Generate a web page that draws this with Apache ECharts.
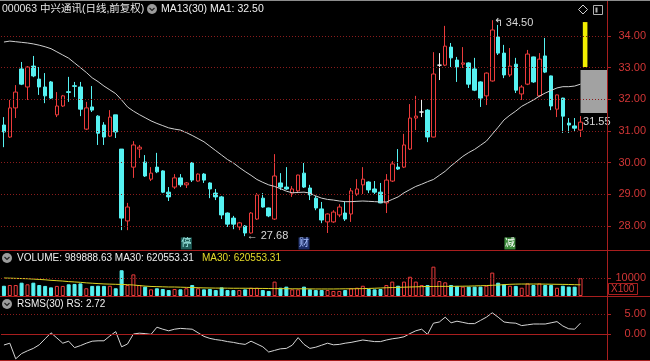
<!DOCTYPE html>
<html><head><meta charset="utf-8">
<script src="https://cdn.jsdelivr.net/npm/echarts@6/dist/echarts.min.js"></script>
<style>html,body{margin:0;padding:0;background:#000;overflow:hidden}#c{width:650px;height:361px}</style>
</head><body><div id="c"></div>
<script>
// ---------- data ----------
const opens = [31.19,30.81,31.73,32.96,32.39,33.05,32.64,32.39,32.55,31.51,
31.79,32.24,32.43,32.39,31.06,31.76,31.47,31.19,30.84,31.51,
30.43,28.16,29.86,30.43,30.02,29.48,29.86,29.74,29.07,29.23,
29.52,29.30,29.99,29.42,29.64,29.36,29.04,28.92,28.41,28.25,
27.97,28.00,27.78,28.22,28.88,28.57,28.22,29.36,29.23,29.04,
29.11,29.67,29.20,28.88,28.54,28.13,28.13,28.35,28.41,28.38,
29.01,29.30,29.39,29.17,29.07,28.73,29.42,29.86,29.86,30.43,
31.41,31.60,31.66,30.81,33.08,33.08,33.65,33.24,33.11,33.15,
32.96,32.55,32.11,32.58,33.97,33.46,32.77,33.11,32.17,32.48,
33.34,32.11,33.37,32.74,31.69,32.04,31.25,31.16,31.03];
const closes = [30.97,31.73,32.23,32.48,33.02,32.74,32.39,32.11,32.04,31.79,
32.11,32.22,32.41,31.69,31.73,31.66,30.93,30.81,31.44,30.97,
28.25,28.60,30.56,30.49,29.58,29.67,29.71,29.07,28.92,29.52,
29.30,29.36,29.45,29.64,29.45,29.17,28.92,28.35,28.06,28.06,
28.10,27.78,28.41,28.98,28.60,28.32,29.58,29.23,29.17,29.17,
29.61,29.23,28.98,28.57,28.19,28.38,28.44,28.60,28.22,29.11,
29.17,29.48,29.14,29.07,28.73,29.45,29.96,29.80,30.56,31.41,
31.47,31.60,30.81,32.80,33.08,33.68,33.31,33.02,33.15,32.48,
32.29,32.04,32.83,34.19,33.46,32.77,33.05,32.29,32.39,33.43,
32.55,33.27,32.86,31.79,32.14,31.47,31.19,31.09,31.28];
const lows = [30.49,30.78,31.41,32.45,31.98,32.70,32.14,31.88,32.01,31.44,
31.76,31.92,32.07,31.47,31.03,31.60,30.56,30.56,30.81,30.78,
27.87,27.87,29.52,30.15,29.55,29.42,29.67,29.04,28.79,29.17,
29.23,29.20,29.39,29.40,29.36,28.88,28.82,28.22,27.97,27.90,
27.87,27.68,27.76,28.19,28.58,28.28,28.19,29.14,29.14,28.92,
29.04,29.20,28.82,28.50,28.09,27.78,28.10,28.28,28.16,28.13,
28.95,29.01,29.04,29.01,28.72,28.41,29.39,29.77,29.83,30.40,
31.03,31.44,30.65,30.80,32.61,33.05,33.02,32.55,32.99,32.36,
32.26,31.76,31.82,32.56,33.40,32.67,32.71,32.20,31.98,32.45,
32.52,32.07,32.83,31.66,31.44,30.94,30.94,30.97,30.81];
const highs = [31.44,31.98,32.45,33.18,33.05,33.37,33.02,32.83,32.58,32.23,
32.14,32.71,32.55,32.55,31.92,32.42,31.50,31.28,31.66,31.51,
30.43,28.73,30.68,30.56,30.24,29.86,30.31,29.76,29.23,29.64,
29.64,29.39,30.02,29.66,29.67,29.38,29.17,28.95,28.43,28.32,
28.13,28.03,28.44,29.04,29.04,28.58,30.27,29.67,29.86,29.26,
29.62,29.99,29.30,28.95,28.76,28.40,28.50,28.69,28.76,29.20,
29.48,29.86,29.41,29.42,29.36,29.64,30.05,30.43,30.91,31.85,
32.11,32.01,31.69,33.49,33.46,34.32,33.78,33.34,33.65,33.17,
33.31,32.57,32.85,34.50,34.35,33.72,33.62,33.31,32.45,33.56,
33.35,33.46,33.94,32.75,32.15,32.05,31.41,31.41,31.47];
const ma30 = [33.81,33.84,33.82,33.80,33.78,33.75,33.71,33.66,33.60,33.50,
33.40,33.30,33.15,33.00,32.85,32.68,32.56,32.42,32.30,32.18,
31.98,31.76,31.63,31.52,31.42,31.32,31.24,31.17,31.10,31.06,
31.03,30.95,30.86,30.76,30.66,30.52,30.38,30.24,30.10,29.99,
29.85,29.72,29.60,29.47,29.38,29.30,29.25,29.18,29.10,29.05,
29.06,29.07,29.04,28.95,28.88,28.84,28.82,28.79,28.77,28.77,
28.78,28.79,28.78,28.77,28.76,28.76,28.84,28.92,29.05,29.15,
29.25,29.32,29.40,29.47,29.60,29.73,29.90,30.05,30.20,30.32,
30.42,30.55,30.68,30.90,31.12,31.35,31.50,31.63,31.78,31.88,
31.98,32.10,32.20,32.28,32.36,32.40,32.40,32.42,32.48];
const volumes = [5700,6100,6100,7400,6500,7400,6100,5600,4800,5600,
5600,6500,6700,7000,4300,5600,5700,5600,5700,4300,
14300,6100,12000,6100,5200,3700,4300,3900,3300,3900,
3700,4300,6100,4300,3700,3900,3300,4800,3300,3300,
3300,3700,4600,4600,3300,2800,8000,4600,5200,3700,
3700,5200,3700,3300,3300,3300,2800,2800,3300,4300,
4600,5700,3900,3700,3900,6100,8000,5700,8000,10700,
8000,6100,6100,16300,8300,7600,6100,5600,5200,5200,
5200,5200,5700,13000,7400,6500,5700,5600,4600,7000,
6100,7000,6100,6100,4600,5700,5200,5200,9899];
const volMa30 = [10000,9900,9800,9700,9600,9400,9200,9000,8700,8500,
8300,8000,7800,7600,7300,7100,6900,6700,6600,6500,
6400,6300,6100,5800,5500,5300,5200,5100,5000,5000,
4900,4800,4700,4600,4500,4450,4400,4400,4350,4300,
4300,4300,4250,4200,4200,4150,4100,4100,4050,4000,
4000,4000,3950,3900,3900,3900,3900,3950,4000,4000,
4050,4100,4200,4300,4450,4600,4700,4800,4900,5000,
5100,5200,5300,5300,5350,5350,5350,5400,5450,5500,
5600,5700,5800,5950,6100,6300,6500,6600,6650,6650,
6650,6650,6600,6550,6500,6450,6400,6300,6206];
const rsValues = [-2.75,-2.3,-6.2,-4.9,-4.2,-3.6,-2.7,-1.2,0.3,-1.0,
-2.3,-1.8,-3.4,-2.9,-2.3,-1.8,-1.7,-1.7,-0.5,0.6,
-3.2,-2.5,0.0,0.2,0.1,-0.1,1.7,1.2,0.8,1.2,
1.4,1.3,1.2,0.3,-0.6,-1.1,-1.4,-1.6,-1.9,-2.1,
-2.4,-2.6,-1.8,-2.5,-3.2,-4.5,-4.1,-3.7,-3.6,-2.8,
-0.9,-2.6,-3.6,-3.3,-2.8,-2.3,-2.7,-2.6,-2.3,-2.1,
-1.8,-1.5,-1.7,-1.9,-1.9,-1.5,-1.2,-1.0,-0.7,0.1,
0.8,1.2,-0.1,2.7,3.0,4.2,2.8,3.2,2.9,2.6,
2.6,3.4,4.2,5.3,4.2,3.0,2.8,2.7,2.1,2.3,
2.5,2.5,2.5,2.8,3.1,2.0,1.3,1.2,2.72];
const priceTicks = [28,29,30,31,32,33,34];
const volTicks = [10000];
const rsTicks = [0,5];
const extraSlots = 4;
const highMark = {idx:83, value:34.50};
const lowMark = {idx:41, value:27.68};
const lastMark = {idx:98, value:31.28, text:'31.55'};
const boxRange = {idx:98, lo:31.57, hi:32.93};
const yellowRange = {idx:98, lo:33.02, hi:34.44};
const eventMarks = [{idx:31, text:'停'},{idx:51, text:'财'},{idx:86, text:'减'}];
const eventLevel = 27.45;
const titleText = '000063 中兴通讯(日线,前复权)';
const maText = 'MA13(30) MA1: 32.50';
const volText = 'VOLUME: 989888.63 MA30: 620553.31';
const volMaText = 'MA30: 620553.31';
const rsText = 'RSMS(30) RS: 2.72';

// ---------- styling ----------
const RED = '#ec3b3b', CYAN = '#56f2f2', BORDER = '#a81e1e', GRIDRED = '#8a1c1c', LABEL = '#d23636';
const FONT = '"Liberation Sans","Noto Sans CJK SC",sans-serif';
const eventStyles = [
  {bg:'#1f5c58', fg:'#a6f4ee'},
  {bg:'#1c2c66', fg:'#a8c0ff'},
  {bg:'#3a8a3a', fg:'#ffffff'}
];

const N = closes.length;
const cats = Array.from({length: N + extraSlots}, (_, i) => String(i + 1));
const candleData = opens.map((o, i) => [o, closes[i], lows[i], highs[i]]);
const volData = volumes.map((v, i) => {
  const up = closes[i] >= opens[i];
  return {value: v, itemStyle: up ? {color:'#000', borderColor: RED, borderWidth: 1} : {color: CYAN, borderColor: CYAN, borderWidth: 1}};
});

const chart = echarts.init(document.getElementById('c'), null, {renderer:'canvas'});

function xAx(g){ return {type:'category', gridIndex:g, data:cats, show:false, boundaryGap:true}; }
function yAx(g, min, max, ticks, fmt){
  return {type:'value', gridIndex:g, position:'right', min:min, max:max, scale:true,
    axisLine:{show:false},
    axisTick:{show:true, length:4, lineStyle:{color:BORDER}, customValues: ticks},
    axisLabel:{show:true, customValues: ticks, color:LABEL, fontSize:11, fontFamily:FONT, align:'right', margin:39,
      formatter: v => ticks.some(t => Math.abs(t - v) < 1e-6) ? fmt(v) : ''},
    splitLine:{show:false}};
}
const hiddenMarkPoint = {symbol:'circle', symbolSize:1, itemStyle:{color:'rgba(0,0,0,0)'}};
const gridDash = {color:GRIDRED, type:[1,2], width:1};

const option = {
  backgroundColor:'#000',
  animation:false,
  grid:[
    {left:1, right:43, top:2, height:248},
    {left:1, right:43, top:262, height:34},
    {left:1, right:43, top:297, height:63}
  ],
  xAxis:[xAx(0), xAx(1), xAx(2)],
  yAxis:[
    yAx(0, 27.243, 35.074, priceTicks, v => v.toFixed(2)),
    yAx(1, 0, 18889, volTicks, v => String(v)),
    yAx(2, -6.5, 9.25, rsTicks, v => v.toFixed(2))
  ],
  series:[
    {type:'custom', xAxisIndex:0, yAxisIndex:0, z:1, silent:true,
      data:[[boxRange.idx, boxRange.lo, boxRange.hi]],
      renderItem:(params, api) => {
        const lo = api.coord([api.value(0), api.value(1)]);
        const hi = api.coord([api.value(0), api.value(2)]);
        const cs = params.coordSys;
        return {type:'rect', shape:{x:lo[0], y:hi[1], width:cs.x + cs.width - lo[0], height:lo[1] - hi[1]}, style:{fill:'#a2a2a2'}};
      }},
    {type:'custom', xAxisIndex:0, yAxisIndex:0, z:1, silent:true,
      data:[[yellowRange.idx, yellowRange.lo, yellowRange.hi]],
      renderItem:(params, api) => {
        const lo = api.coord([api.value(0), api.value(1)]);
        const hi = api.coord([api.value(0), api.value(2)]);
        return {type:'rect', shape:{x:lo[0] + 2.3, y:hi[1], width:4.6, height:lo[1] - hi[1]}, style:{fill:'#f2ee00'}};
      }},
    {type:'candlestick', xAxisIndex:0, yAxisIndex:0, z:2, barWidth:4, data:candleData,
      itemStyle:{color:'#000', color0:CYAN, borderColor:RED, borderColor0:CYAN, borderColorDoji:'#f0f0f0', borderWidth:1},
      markLine:{symbol:['none','none'], silent:true, label:{show:false}, lineStyle:gridDash,
        data: priceTicks.map(v => ({yAxis:v}))},
      markPoint:{silent:true, data:[
        Object.assign({coord:[cats[highMark.idx], highMark.value], label:{show:true, position:'right', distance:1, offset:[0,3], color:'#d8d8d8', fontSize:11, fontFamily:FONT, formatter:'↰ ' + highMark.value.toFixed(2)}}, hiddenMarkPoint),
        Object.assign({coord:[cats[lowMark.idx], lowMark.value], label:{show:true, position:'right', distance:1, offset:[0,0], color:'#d8d8d8', fontSize:11, fontFamily:FONT, formatter:'← ' + lowMark.value.toFixed(2)}}, hiddenMarkPoint),
        Object.assign({coord:[cats[lastMark.idx], lastMark.value], label:{show:true, position:'right', distance:2, offset:[0,0], color:'#d8d8d8', fontSize:11, fontFamily:FONT, formatter:lastMark.text}}, hiddenMarkPoint)
      ].concat(eventMarks.map((e, k) => ({coord:[cats[e.idx], eventLevel], symbol:'rect', symbolSize:[11,12],
        itemStyle:{color:eventStyles[k].bg},
        label:{show:true, position:'inside', color:eventStyles[k].fg, fontSize:10, fontFamily:FONT, formatter:e.text}})))}
    },
    {type:'line', xAxisIndex:0, yAxisIndex:0, z:3, data:ma30, showSymbol:false, symbol:'none', silent:true,
      lineStyle:{color:'#cfcfcf', width:1}},
    {type:'bar', xAxisIndex:1, yAxisIndex:1, z:2, barWidth:4, data:volData, silent:true,
      markLine:{symbol:['none','none'], silent:true, label:{show:false}, lineStyle:gridDash,
        data: volTicks.map(v => ({yAxis:v}))}},
    {type:'line', xAxisIndex:1, yAxisIndex:1, z:3, data:volMa30, showSymbol:false, symbol:'none', silent:true,
      lineStyle:{color:'#dcd424', width:1}},
    {type:'line', xAxisIndex:2, yAxisIndex:2, z:3, data:rsValues, showSymbol:false, symbol:'none', silent:true,
      lineStyle:{color:'#d4d4d4', width:1},
      markLine:{symbol:['none','none'], silent:true, label:{show:false}, data:[
        {yAxis:rsTicks[0], lineStyle:{color:BORDER, type:'solid', width:1}},
        {yAxis:rsTicks[1], lineStyle:gridDash}
      ]}}
  ],
  graphic:[
    {type:'line', z:50, shape:{x1:0, y1:0.5, x2:650, y2:0.5}, style:{stroke:'#8c8c8c', lineWidth:1}},
    {type:'line', z:50, shape:{x1:0, y1:250.5, x2:650, y2:250.5}, style:{stroke:BORDER, lineWidth:1}},
    {type:'line', z:50, shape:{x1:0, y1:296.5, x2:650, y2:296.5}, style:{stroke:BORDER, lineWidth:1}},
    {type:'line', z:50, shape:{x1:0, y1:360.5, x2:650, y2:360.5}, style:{stroke:BORDER, lineWidth:1}},
    {type:'line', z:50, shape:{x1:607.5, y1:1, x2:607.5, y2:361}, style:{stroke:BORDER, lineWidth:1}},
    {type:'text', z:50, x:2, y:9, style:{text:titleText, fill:'#e6e6e6', font:'10.5px ' + FONT, verticalAlign:'middle', textVerticalAlign:'middle'}},
    {type:'circle', z:50, shape:{cx:152, cy:9, r:5}, style:{fill:'#9c9c9c'}},
    {type:'polyline', z:51, shape:{points:[[149.5,8],[152,10.5],[154.5,8]]}, style:{stroke:'#202020', lineWidth:1.2, fill:null}},
    {type:'text', z:50, x:161, y:9, style:{text:maText, fill:'#f0f0f0', font:'10.5px ' + FONT, verticalAlign:'middle', textVerticalAlign:'middle'}},
    {type:'polygon', z:50, shape:{points:[[583,5],[587.5,9.5],[583,14],[578.5,9.5]]}, style:{stroke:'#d0d0d0', lineWidth:1, fill:null}},
    {type:'rect', z:50, shape:{x:593.5, y:5.5, width:9, height:9}, style:{stroke:'#b0b0b0', lineWidth:1, fill:null}},
    {type:'rect', z:50, shape:{x:595.5, y:7.5, width:2, height:5}, style:{fill:'#b0b0b0'}},
    {type:'circle', z:50, shape:{cx:7, cy:258, r:5}, style:{fill:'#9c9c9c'}},
    {type:'polyline', z:51, shape:{points:[[4.5,257],[7,259.5],[9.5,257]]}, style:{stroke:'#202020', lineWidth:1.2, fill:null}},
    {type:'text', z:50, x:17, y:258, style:{text:volText, fill:'#f0f0f0', font:'10px ' + FONT, verticalAlign:'middle', textVerticalAlign:'middle'}},
    {type:'text', z:50, x:202, y:258, style:{text:volMaText, fill:'#e6dc2a', font:'10px ' + FONT, verticalAlign:'middle', textVerticalAlign:'middle'}},
    {type:'rect', z:50, shape:{x:608.5, y:283.5, width:29, height:11}, style:{stroke:BORDER, lineWidth:1, fill:null}},
    {type:'text', z:50, x:611, y:289.5, style:{text:'X100', fill:LABEL, font:'10px ' + FONT, verticalAlign:'middle', textVerticalAlign:'middle'}},
    {type:'circle', z:50, shape:{cx:7, cy:304, r:5}, style:{fill:'#9c9c9c'}},
    {type:'polyline', z:51, shape:{points:[[4.5,303],[7,305.5],[9.5,303]]}, style:{stroke:'#202020', lineWidth:1.2, fill:null}},
    {type:'text', z:50, x:17, y:304, style:{text:rsText, fill:'#f0f0f0', font:'10px ' + FONT, verticalAlign:'middle', textVerticalAlign:'middle'}}
  ]
};
chart.setOption(option);
</script>
</body></html>
